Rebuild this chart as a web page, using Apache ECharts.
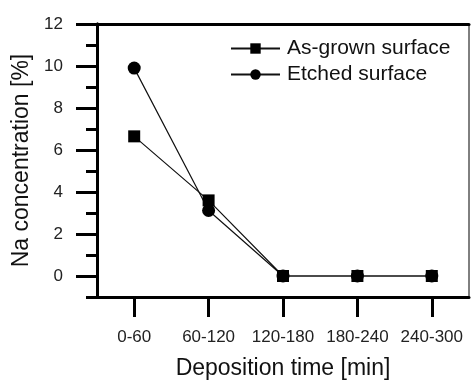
<!DOCTYPE html>
<html><head><meta charset="utf-8">
<script src="https://cdn.jsdelivr.net/npm/echarts@6/dist/echarts.min.js"></script>
<style>html,body{margin:0;padding:0;background:#fff}#c{width:471px;height:385px}</style>
</head><body><div id="c"></div>
<script>
var categories = ['0-60', '60-120', '120-180', '180-240', '240-300'];
var asGrown = [6.65, 3.6, 0, 0, 0];
var etched = [9.9, 3.12, 0, 0, 0];
var yMajorTicks = [0, 2, 4, 6, 8, 10, 12];
var yMinorTicks = [-1, 1, 3, 5, 7, 9, 11];
var seriesNames = ['As-grown surface', 'Etched surface'];

var FONT = '"Liberation Sans", Arial, sans-serif';
var chart = echarts.init(document.getElementById('c'), null, {renderer: 'canvas'});
chart.setOption({
  animation: false,
  grid: {left: 97, right: 2, top: 24, bottom: 83, show: true, borderColor: '#000', borderWidth: 1, backgroundColor: 'transparent'},
  legend: {
    orient: 'vertical', left: 230, top: 38, padding: 0, itemWidth: 49, itemHeight: 13, itemGap: 5,
    textStyle: {fontFamily: FONT, fontSize: 21, color: '#111', padding: [0, 0, 0, 2]},
    data: seriesNames
  },
  xAxis: [{
    type: 'category', data: categories, boundaryGap: true, position: 'bottom',
    axisLine: {show: true, onZero: false, lineStyle: {color: '#000', width: 3}},
    axisTick: {show: true, inside: false, alignWithLabel: true, interval: 0, length: 20, lineStyle: {color: '#000', width: 3}},
    axisLabel: {show: true, interval: 0, hideOverlap: false, margin: 32, fontFamily: FONT, fontSize: 17, color: '#222'},
    name: 'Deposition time [min]', nameLocation: 'middle', nameGap: 60,
    nameTextStyle: {fontFamily: FONT, fontSize: 23, color: '#111'},
    splitLine: {show: false}
  }, {
    type: 'category', data: categories, position: 'top',
    axisLine: {show: true, onZero: false, lineStyle: {color: '#000', width: 3}},
    axisTick: {show: false}, axisLabel: {show: false}, splitLine: {show: false}
  }],
  yAxis: [{
    type: 'value', min: -1, max: 12, interval: 1,
    axisLine: {show: true, onZero: false, lineStyle: {color: '#000', width: 3}},
    axisTick: {show: true, customValues: yMajorTicks, length: 21, lineStyle: {color: '#000', width: 3}},
    axisLabel: {customValues: yMajorTicks, margin: 34, fontFamily: FONT, fontSize: 17, color: '#222'},
    splitLine: {show: false},
    name: 'Na concentration [%]', nameLocation: 'middle', nameGap: 62, nameRotate: 90,
    nameTextStyle: {fontFamily: FONT, fontSize: 23, color: '#111'}
  }, {
    type: 'value', min: -1, max: 12, interval: 1, position: 'left',
    axisLine: {show: true, onZero: false, lineStyle: {color: '#000', width: 3}},
    axisTick: {show: true, customValues: yMinorTicks, length: 11, lineStyle: {color: '#000', width: 3}},
    axisLabel: {show: false}, splitLine: {show: false}
  }],
  series: [{
    name: seriesNames[0], type: 'line', data: asGrown, symbol: 'rect', symbolSize: 12,
    itemStyle: {color: '#000'}, lineStyle: {color: '#111', width: 1.2}
  }, {
    name: seriesNames[1], type: 'line', data: etched, symbol: 'circle', symbolSize: 13,
    itemStyle: {color: '#000'}, lineStyle: {color: '#111', width: 1.2}
  }]
});
</script></body></html>
